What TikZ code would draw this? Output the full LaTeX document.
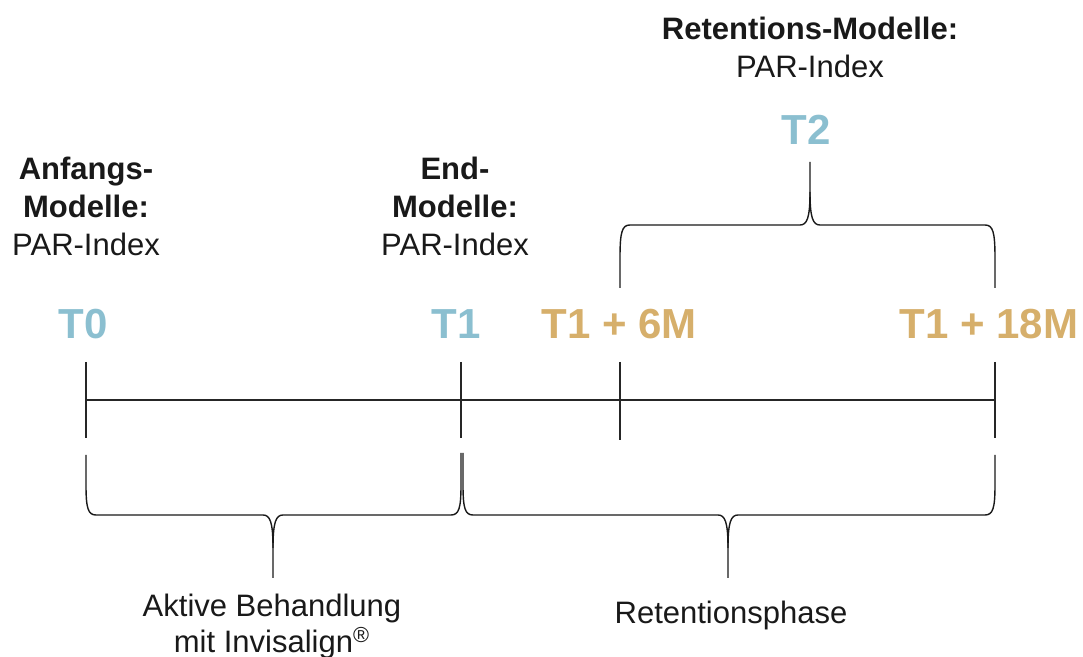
\documentclass[tikz,border=0pt]{standalone}
\usepackage{fontspec}
\setmainfont{Liberation Sans}
\usetikzlibrary{positioning,calc}
\definecolor{tblue}{RGB}{139,191,208}
\definecolor{tgold}{RGB}{214,175,107}

\tikzset{
  lbl/.style={font=\fontsize{15.5}{19}\selectfont, align=center, inner sep=0pt, text=black!90},
  tpoint/.style={font=\fontsize{21}{24}\selectfont\bfseries, inner sep=0pt},
  tickline/.style={line width=0.75pt, black!85},
  braceline/.style={line width=0.7pt, black!90, line join=round}
}

\begin{document}
\begin{tikzpicture}[x=0.5pt,y=-0.5pt]
  \useasboundingbox (0,0) rectangle (1083,657);

  % Beschriftungen oben
  \node[lbl,anchor=north] (rm)  at (810,17)  {\textbf{Retentions-Modelle:}\\PAR-Index};
  \node[lbl,anchor=north] (am)  at (86,157)  {\textbf{Anfangs-}\\\textbf{Modelle:}\\PAR-Index};
  \node[lbl,anchor=north] (em)  at (455,157) {\textbf{End-}\\\textbf{Modelle:}\\PAR-Index};

  % Zeitpunkte
  \node[tpoint,text=tblue] (t2)   at (806,130) {T2};
  \node[tpoint,text=tblue] (t0)   at (83,324)  {T0};
  \node[tpoint,text=tblue] (t1)   at (456,324) {T1};
  \node[tpoint,text=tgold] (t6m)  at (619,324) {T1 + 6M};
  \node[tpoint,text=tgold] (t18m) at (989,324) {T1 + 18M};

  % Zeitstrahl
  \coordinate (a0) at (86,362);  \coordinate (b0) at (86,438);
  \coordinate (a1) at (461,362); \coordinate (b1) at (461,438);
  \coordinate (a2) at (620,362); \coordinate (b2) at (620,440);
  \coordinate (a3) at (995,362); \coordinate (b3) at (995,438);
  \coordinate (m0) at (86,400);  \coordinate (m3) at (995,400);
  \foreach \i in {0,1,2,3}
    \draw[tickline] (a\i) -- (b\i);
  \draw[tickline] (m0) -- (m3);

  % Klammer T2
  \draw[braceline] (620,288) -- (620,258) .. controls (620,232) and (622,225) .. (630,225)
    -- (800,225) .. controls (807,225) and (810,218) .. (810,192) -- (810,162);
  \draw[braceline] (810,192) .. controls (810,218) and (813,225) .. (820,225)
    -- (985,225) .. controls (993,225) and (995,232) .. (995,258) -- (995,288);

  % Klammer aktive Behandlung
  \draw[braceline] (86,455) -- (86,485) .. controls (86,508) and (88,515) .. (96,515)
    -- (263,515) .. controls (270,515) and (273,522) .. (273,548) -- (273,578);
  \draw[braceline] (273,548) .. controls (273,522) and (276,515) .. (283,515)
    -- (451,515) .. controls (459,515) and (461,508) .. (461,485) -- (461,453);

  % Klammer Retentionsphase
  \draw[braceline] (463,453) -- (463,485) .. controls (463,508) and (465,515) .. (473,515)
    -- (718,515) .. controls (725,515) and (728,522) .. (728,548) -- (728,578);
  \draw[braceline] (728,548) .. controls (728,522) and (731,515) .. (738,515)
    -- (985,515) .. controls (993,515) and (995,508) .. (995,485) -- (995,455);

  % Phasen
  \node[lbl,anchor=north,font=\fontsize{15.5}{18}\selectfont] (akt) at (272,594)
    {Aktive Behandlung\\mit Invisalign\textsuperscript{\textregistered}};
  \node[lbl,anchor=north] (ret) at (731,601) {Retentionsphase};
\end{tikzpicture}
\end{document}
